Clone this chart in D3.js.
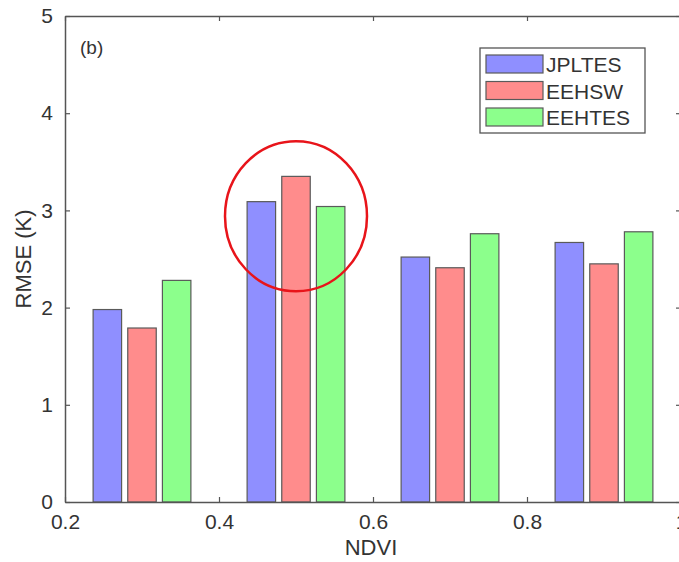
<!DOCTYPE html>
<html><head><meta charset="utf-8">
<script src="https://cdn.jsdelivr.net/npm/d3@7"></script>
<style>body{margin:0;background:#fff}svg{display:block}text{font-family:"Liberation Sans",Arial,sans-serif}</style>
</head><body>
<svg id="c" width="679" height="562"></svg>
<script>
const ndvi = [0.3, 0.5, 0.7, 0.9];
const seriesNames = ["JPLTES", "EEHSW", "EEHTES"];
const jplTES = [1.98, 3.09, 2.52, 2.67];
const eehSW = [1.79, 3.35, 2.41, 2.45];
const eehTES = [2.28, 3.04, 2.76, 2.78];
const xTicks = [0.2, 0.4, 0.6, 0.8, 1];
const yTicks = [0, 1, 2, 3, 4, 5];
const colors = ["#8f8fff", "#ff8c8c", "#8cff8c"];
const series = [jplTES, eehSW, eehTES];

const svg = d3.select("#c");
const L = 65, R = 681, T = 16, B = 502;
const x = d3.scaleLinear().domain([0.2, 1.0]).range([L, R]);
const y = d3.scaleLinear().domain([0, 5]).range([B, T]);
const axisColor = "#555";
const textColor = "#333";

// bars
const off = 0.045, bw = 0.037;
series.forEach((vals, si) => {
  svg.append("g").selectAll("rect").data(vals).join("rect")
    .attr("x", (d, i) => x(ndvi[i] + (si - 1) * off - bw / 2))
    .attr("width", x(bw) - x(0))
    .attr("y", d => y(d))
    .attr("height", d => y(0) - y(d))
    .attr("fill", colors[si])
    .attr("stroke", "#5a5a5a").attr("stroke-width", 1.2);
});

// axes
const fs = 21;
const xb = svg.append("g").attr("transform", `translate(0,${B})`)
  .call(d3.axisBottom(x).tickValues(xTicks).tickFormat(d => d === 1 ? "1" : d3.format(".1f")(d)).tickSizeInner(-5).tickSizeOuter(0).tickPadding(12));
const xt = svg.append("g").attr("transform", `translate(0,${T})`)
  .call(d3.axisTop(x).tickValues(xTicks).tickFormat("").tickSizeInner(-5).tickSizeOuter(0));
const yl = svg.append("g").attr("transform", `translate(${L},0)`)
  .call(d3.axisLeft(y).tickValues(yTicks).tickFormat(d3.format("d")).tickSizeInner(-5).tickSizeOuter(0).tickPadding(12));
const yr = svg.append("g").attr("transform", `translate(${R},0)`)
  .call(d3.axisRight(y).tickValues(yTicks).tickFormat("").tickSizeInner(-5).tickSizeOuter(0));
[xb, xt, yl, yr].forEach(g => {
  g.selectAll("path").attr("stroke", axisColor).attr("stroke-width", 1.5);
  g.selectAll("line").attr("stroke", axisColor).attr("stroke-width", 1.2);
  g.selectAll("text").attr("fill", textColor).style("font-size", fs + "px").attr("font-family", null);
});

// axis labels
svg.append("text").attr("x", (L + R) / 2 - 2).attr("y", 555).attr("text-anchor", "middle")
  .style("font-size", "22px").attr("fill", textColor).text("NDVI");
svg.append("text").attr("transform", `translate(31,${(T + B) / 2}) rotate(-90)`).attr("text-anchor", "middle")
  .style("font-size", "22px").attr("fill", textColor).text("RMSE (K)");

// panel label
svg.append("text").attr("x", 80).attr("y", 54).style("font-size", "19px").attr("fill", textColor).text("(b)");

// legend
const lg = svg.append("g").attr("transform", "translate(480,48)");
lg.append("rect").attr("width", 165).attr("height", 85).attr("fill", "#fff").attr("stroke", axisColor).attr("stroke-width", 1.3);
seriesNames.forEach((n, i) => {
  const yy = 7 + i * 26.5;
  lg.append("rect").attr("x", 6).attr("y", yy).attr("width", 57).attr("height", 18)
    .attr("fill", colors[i]).attr("stroke", "#5a5a5a").attr("stroke-width", 1.2);
  lg.append("text").attr("x", 66).attr("y", yy + 17).style("font-size", "21px").attr("fill", textColor).text(n);
});

// annotation circle
svg.append("ellipse").attr("cx", x(0.5)).attr("cy", y(2.94))
  .attr("rx", 71).attr("ry", 75).attr("fill", "none").attr("stroke", "#e8141a").attr("stroke-width", 2.5);
</script>
</body></html>
